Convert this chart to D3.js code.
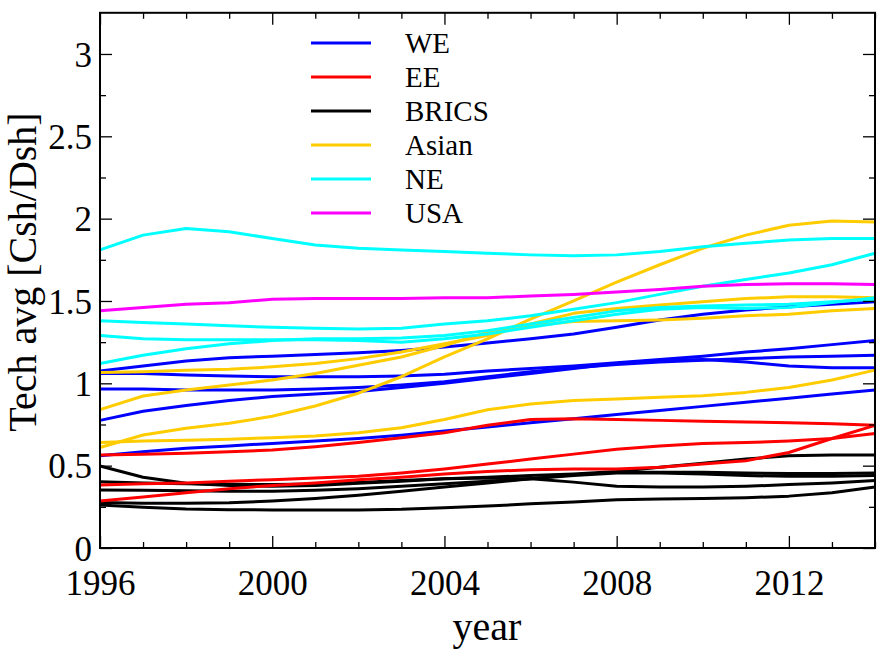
<!DOCTYPE html>
<html><head><meta charset="utf-8">
<script src="https://cdn.jsdelivr.net/npm/d3@7"></script>
<style>body{margin:0;background:#fff}svg{display:block}text{font-family:"Liberation Serif","DejaVu Serif",serif;fill:#000}</style>
</head><body>
<svg id="c" width="886" height="650"></svg>
<script>
const years = d3.range(1996, 2015);
const xTicks = [1996, 2000, 2004, 2008, 2012];
const yTicks = [0, 0.5, 1, 1.5, 2, 2.5, 3];
const yTickLabels = ["0", "0.5", "1", "1.5", "2", "2.5", "3"];
const groups = ["WE", "EE", "BRICS", "Asian", "NE", "USA"];
const groupColors = ["#0000ff", "#ff0000", "#000000", "#ffcc00", "#00ffff", "#ff00ff"];

const WE = [
  [1.075,1.105,1.135,1.155,1.165,1.175,1.185,1.20,1.22,1.245,1.27,1.30,1.34,1.385,1.42,1.445,1.465,1.48,1.495],
  [1.06,1.06,1.05,1.045,1.04,1.04,1.04,1.045,1.055,1.075,1.09,1.105,1.125,1.145,1.165,1.19,1.21,1.235,1.26],
  [0.965,0.965,0.96,0.96,0.96,0.965,0.975,0.99,1.01,1.04,1.07,1.095,1.115,1.13,1.14,1.15,1.16,1.165,1.17],
  [0.775,0.83,0.865,0.895,0.92,0.935,0.95,0.975,1.0,1.03,1.06,1.09,1.12,1.14,1.145,1.13,1.105,1.095,1.095],
  [0.56,0.585,0.605,0.62,0.635,0.65,0.665,0.685,0.71,0.735,0.76,0.785,0.81,0.835,0.86,0.885,0.91,0.935,0.96]
];
const EE = [
  [0.565,0.57,0.575,0.585,0.595,0.615,0.64,0.67,0.70,0.745,0.78,0.785,0.78,0.775,0.77,0.765,0.76,0.755,0.745],
  [0.383,0.39,0.395,0.405,0.415,0.425,0.435,0.455,0.48,0.51,0.54,0.57,0.60,0.62,0.635,0.64,0.65,0.665,0.695],
  [0.285,0.31,0.335,0.36,0.38,0.395,0.415,0.43,0.45,0.465,0.475,0.48,0.48,0.49,0.51,0.53,0.58,0.665,0.745]
];
const BRICS = [
  [0.498,0.43,0.393,0.38,0.375,0.38,0.393,0.405,0.42,0.43,0.44,0.45,0.465,0.49,0.515,0.54,0.56,0.565,0.565],
  [0.403,0.395,0.39,0.387,0.385,0.388,0.397,0.41,0.42,0.425,0.42,0.40,0.375,0.37,0.37,0.375,0.385,0.395,0.41],
  [0.352,0.35,0.347,0.345,0.345,0.35,0.36,0.375,0.39,0.405,0.42,0.44,0.455,0.455,0.45,0.44,0.435,0.435,0.44],
  [0.277,0.272,0.271,0.275,0.285,0.30,0.32,0.345,0.37,0.395,0.42,0.445,0.46,0.46,0.46,0.455,0.452,0.452,0.455],
  [0.261,0.248,0.237,0.233,0.231,0.231,0.231,0.235,0.245,0.255,0.268,0.28,0.293,0.298,0.30,0.305,0.315,0.335,0.37]
];
const Asian = [
  [1.065,1.07,1.08,1.085,1.10,1.12,1.15,1.19,1.24,1.29,1.36,1.425,1.455,1.475,1.495,1.515,1.525,1.525,1.52],
  [0.84,0.923,0.96,0.99,1.02,1.06,1.11,1.16,1.23,1.31,1.35,1.375,1.38,1.385,1.395,1.41,1.42,1.44,1.455],
  [0.64,0.65,0.655,0.66,0.67,0.68,0.70,0.73,0.78,0.84,0.875,0.895,0.905,0.915,0.925,0.945,0.975,1.02,1.08],
  [0.61,0.686,0.727,0.757,0.80,0.862,0.94,1.04,1.16,1.27,1.39,1.50,1.615,1.72,1.82,1.90,1.96,1.985,1.98]
];
const NE = [
  [1.81,1.90,1.94,1.92,1.88,1.84,1.82,1.81,1.80,1.79,1.78,1.775,1.78,1.80,1.83,1.85,1.87,1.88,1.88],
  [1.38,1.37,1.36,1.35,1.34,1.335,1.33,1.335,1.36,1.38,1.41,1.45,1.49,1.54,1.59,1.63,1.67,1.72,1.79],
  [1.29,1.27,1.265,1.265,1.265,1.265,1.26,1.25,1.27,1.30,1.34,1.38,1.42,1.45,1.46,1.455,1.46,1.49,1.52],
  [1.12,1.17,1.21,1.24,1.26,1.27,1.27,1.275,1.29,1.32,1.36,1.40,1.44,1.46,1.47,1.475,1.48,1.495,1.51]
];
const USA = [
  [1.44,1.46,1.48,1.49,1.51,1.515,1.515,1.515,1.52,1.52,1.53,1.54,1.555,1.57,1.59,1.60,1.605,1.605,1.60]
];
const seriesByGroup = [WE, EE, BRICS, Asian, NE, USA];
const drawOrder = [2, 0, 1, 3, 4, 5];

(function () {
const svg = d3.select("#c");
const L = 100, R = 875, T = 12.8, B = 548;
const x = d3.scaleLinear().domain([1996, 2014]).range([L, R]);
const y = d3.scaleLinear().domain([0, 3.25]).range([B, T]);

const line = d3.line().x((d, i) => x(years[i])).y(d => y(d));
const gLines = svg.append("g");
drawOrder.forEach(gi => {
  seriesByGroup[gi].forEach(vals => {
    gLines.append("path").attr("d", line(vals)).attr("fill", "none")
      .attr("stroke", groupColors[gi]).attr("stroke-width", 3).attr("stroke-linejoin", "round");
  });
});

const minorX = years.filter(v => !xTicks.includes(v));
const minorY = d3.range(1, 13, 2).map(k => k * 0.25);
const gBottom = svg.append("g").attr("transform", `translate(0,${B})`)
  .call(d3.axisBottom(x).tickValues(xTicks).tickSizeInner(-12).tickSizeOuter(0).tickPadding(22).tickFormat(d3.format("d")));
svg.append("g").attr("transform", `translate(0,${B})`)
  .call(d3.axisBottom(x).tickValues(minorX).tickSizeInner(-6).tickSizeOuter(0).tickFormat(""));
svg.append("g").attr("transform", `translate(0,${T})`)
  .call(d3.axisTop(x).tickValues(xTicks).tickSizeInner(-12).tickSizeOuter(0).tickFormat(""));
svg.append("g").attr("transform", `translate(0,${T})`)
  .call(d3.axisTop(x).tickValues(minorX).tickSizeInner(-6).tickSizeOuter(0).tickFormat(""));
const gLeft = svg.append("g").attr("transform", `translate(${L},0)`)
  .call(d3.axisLeft(y).tickValues(yTicks).tickSizeInner(-12).tickSizeOuter(0).tickPadding(8).tickFormat((d, i) => yTickLabels[i]));
svg.append("g").attr("transform", `translate(${L},0)`)
  .call(d3.axisLeft(y).tickValues(minorY).tickSizeInner(-6).tickSizeOuter(0).tickFormat(""));
svg.append("g").attr("transform", `translate(${R},0)`)
  .call(d3.axisRight(y).tickValues(yTicks).tickSizeInner(-12).tickSizeOuter(0).tickFormat(""));
svg.append("g").attr("transform", `translate(${R},0)`)
  .call(d3.axisRight(y).tickValues(minorY).tickSizeInner(-6).tickSizeOuter(0).tickFormat(""));
svg.selectAll(".domain").remove();
svg.selectAll(".tick line").attr("stroke", "#000").attr("stroke-width", 1.3);
svg.selectAll(".tick text").style("font-size", "35px").style("font-family", '"Liberation Serif", serif').attr("fill", "#000");
gBottom.selectAll(".tick text").attr("dy", "0.71em");
gLeft.selectAll(".tick text").attr("dy", "0.35em");

svg.append("rect").attr("x", L).attr("y", T).attr("width", R - L).attr("height", B - T)
  .attr("fill", "none").attr("stroke", "#000").attr("stroke-width", 2);

svg.append("text").attr("x", 487).attr("y", 640).attr("text-anchor", "middle")
  .style("font-size", "40px").text("year");
svg.append("text").attr("transform", `translate(36,272) rotate(-90)`).attr("text-anchor", "middle")
  .style("font-size", "40px").text("Tech avg [Csh/Dsh]");

const legend = svg.append("g");
groups.forEach((g, i) => {
  const ly = 43 + i * 34;
  legend.append("line").attr("x1", 311).attr("x2", 371).attr("y1", ly).attr("y2", ly)
    .attr("stroke", groupColors[i]).attr("stroke-width", 3);
  legend.append("text").attr("x", 405).attr("y", ly).attr("dy", "0.35em")
    .style("font-size", "29px").text(g);
});
})();
</script>
</body></html>
